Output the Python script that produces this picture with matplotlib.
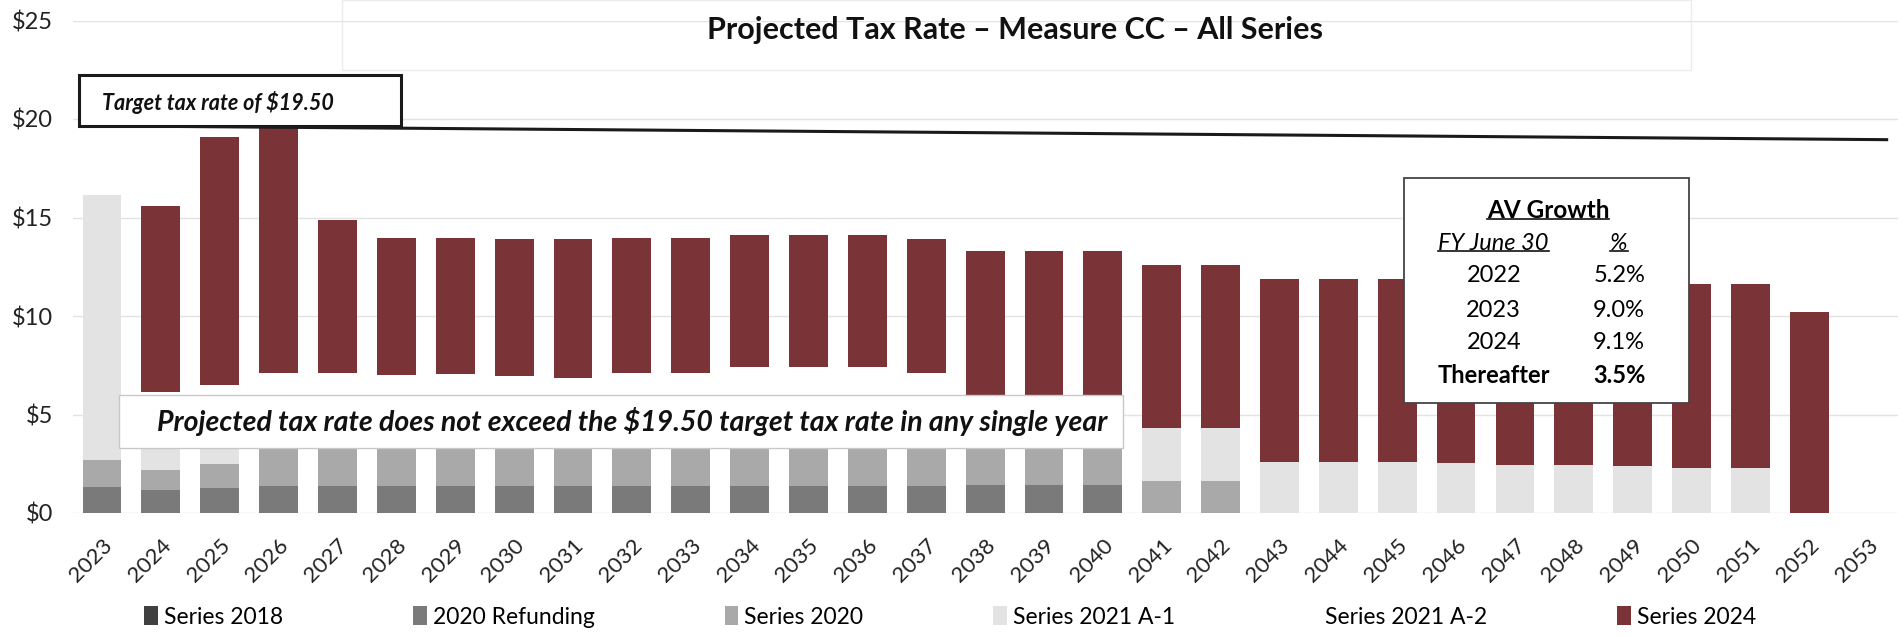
import numpy as np
import matplotlib.pyplot as plt
from matplotlib.patches import Rectangle
from matplotlib.lines import Line2D

plt.rcParams['font.family'] = ['Lato', 'DejaVu Sans']
plt.rcParams['text.parse_math'] = False

# data ($ per $100,000 AV)
years = [str(y) for y in range(2023, 2054)]
series_2018 = [0.0] * 31
refunding_2020 = [1.33, 1.17, 1.25, 1.35, 1.35, 1.35, 1.35, 1.35, 1.35, 1.35, 1.35, 1.35, 1.35, 1.35, 1.35,
                  1.40, 1.40, 1.40, 0, 0, 0, 0, 0, 0, 0, 0, 0, 0, 0, 0, 0]
series_2020 = [1.37, 1.03, 1.25, 2.15, 2.15, 2.15, 2.15, 2.15, 2.15, 2.15, 2.15, 2.15, 2.15, 2.15, 2.15,
               2.10, 2.10, 2.10, 1.60, 1.60, 0, 0, 0, 0, 0, 0, 0, 0, 0, 0, 0]
series_2021_a1 = [13.45, 1.30, 1.00, 0, 0, 0, 0, 0, 0, 0, 0, 0, 0, 0, 0, 0, 0, 0,
                  2.70, 2.70, 2.60, 2.60, 2.60, 2.55, 2.45, 2.45, 2.40, 2.27, 2.27, 0, 0]
series_2021_a2 = [0, 2.66, 3.00, 3.59, 3.59, 3.50, 3.56, 3.44, 3.37, 3.62, 3.62, 3.93, 3.93, 3.93, 3.62,
                  2.00, 2.00, 2.00, 0, 0, 0, 0, 0, 0, 0, 0, 0, 0, 0, 0, 0]
series_2024 = [0, 9.44, 12.60, 12.50, 7.80, 6.97, 6.90, 6.96, 7.03, 6.85, 6.85, 6.67, 6.67, 6.67, 6.78,
               7.80, 7.80, 7.80, 8.30, 8.30, 9.30, 9.30, 9.30, 9.25, 9.35, 9.30, 9.30, 9.33, 9.33, 10.20, 0]

av_years = ['2022', '2023', '2024', 'Thereafter']
av_growth = ['5.2%', '9.0%', '9.1%', '3.5%']

series = [
    ('Series 2018', series_2018, '#404040'),
    ('2020 Refunding', refunding_2020, '#7a7a7a'),
    ('Series 2020', series_2020, '#a9a9a9'),
    ('Series 2021 A-1', series_2021_a1, '#e3e3e3'),
    ('Series 2021 A-2', series_2021_a2, '#ffffff'),
    ('Series 2024', series_2024, '#7a3336'),
]

W, H = 1904, 637
fig = plt.figure(figsize=(W / 100, H / 100), dpi=100)
ax = fig.add_axes([72.6 / W, 1 - 513 / H, 1825 / W, 492.5 / H])

x = np.arange(len(years))
bottom = np.zeros(len(years))
handles = []
for name, vals, col in series:
    vals = np.array(vals, dtype=float)
    b = ax.bar(x, vals, width=0.66, bottom=bottom, color=col, label=name, zorder=2)
    handles.append(b)
    bottom += vals

ax.set_xlim(-0.5, len(years) - 0.5)
ax.set_ylim(0, 25)
ax.set_yticks([0, 5, 10, 15, 20, 25])
ax.set_yticklabels(['$0', '$5', '$10', '$15', '$20', '$25'], fontsize=17, color='#222222')
ax.set_xticks(x)
ax.set_xticklabels(years, rotation=45, ha='right', rotation_mode='anchor', fontsize=16, color='#222222')
ax.tick_params(length=0)
ax.tick_params(axis='y', pad=14)
ax.tick_params(axis='x', pad=16)
ax.grid(axis='y', color='#e3e3e3', lw=1, zorder=0)
for s in ax.spines.values():
    s.set_visible(False)

# target line + box
ax.plot([-0.39, 30.34], [19.66, 18.95], color='#1a1a1a', lw=2.2, zorder=6, solid_capstyle='butt')
ax.add_patch(Rectangle((-0.39, 19.62), 5.47, 2.6, facecolor='white', edgecolor='#1a1a1a', lw=2.2, zorder=6))
ax.text(0.0, 20.86, 'Target tax rate of $19.50', fontsize=15.5, fontweight='bold', fontstyle='italic',
        ha='left', va='center', zorder=7, color='#111111')

# note box
ax.add_patch(Rectangle((0.29, 3.30), 17.05, 2.69, facecolor='white', edgecolor='#c8c8c8', lw=1, zorder=6))
ax.text(9.0, 4.62, 'Projected tax rate does not exceed the $19.50 target tax rate in any single year',
        fontsize=20.5, fontweight='bold', fontstyle='italic', ha='center', va='center', zorder=7, color='#111111')

# AV growth box
ax.add_patch(Rectangle((22.12, 5.58), 4.84, 11.42, facecolor='white', edgecolor='#444444', lw=1.3, zorder=6))
col1, col2 = 23.64, 25.77
t_av = ax.text(24.56, 15.38, 'AV Growth', fontsize=17.5, fontweight='bold', ha='center', va='center', zorder=7)
t_fy = ax.text(col1, 13.7, 'FY June 30', fontsize=17, fontstyle='italic', ha='center', va='center', zorder=7)
t_pc = ax.text(col2, 13.7, '%', fontsize=17, fontstyle='italic', ha='center', va='center', zorder=7)
row_y = [12.08, 10.3, 8.68, 7.0]
for yr, g, yy in zip(av_years, av_growth, row_y):
    wt = 'bold' if yr == 'Thereafter' else 'normal'
    ax.text(col1, yy, yr, fontsize=17, fontweight=wt, ha='center', va='center', zorder=7)
    ax.text(col2, yy, g, fontsize=17, fontweight=wt, ha='center', va='center', zorder=7)

fig.canvas.draw()
inv = fig.transFigure.inverted()
for t in (t_av, t_fy, t_pc):
    bb = t.get_window_extent()
    (x0, y0), (x1, _) = inv.transform([(bb.x0, bb.y0 + 3), (bb.x1, bb.y0 + 3)])
    fig.add_artist(Line2D([x0, x1], [y0, y0], color='#111111', lw=1.2, zorder=8))

# title and its faint frame
fig.add_artist(Rectangle((342 / W, 1 - 70 / H), 1349 / W, 70 / H, fill=False, edgecolor='#ececec',
                         lw=1, transform=fig.transFigure))
fig.text(1015 / W, 1 - 30 / H, 'Projected Tax Rate \u2013 Measure CC \u2013 All Series', fontsize=22,
         fontweight='bold', ha='center', va='center', color='#111111')

fig.legend(handles=handles, loc='center', ncol=6, mode='expand', frameon=False,
           bbox_to_anchor=(135 / W, 1 - 630 / H, 1630 / W, 26 / H), fontsize=16.5,
           handlelength=0.6, handleheight=0.9, handletextpad=0.25, borderaxespad=0)

fig.savefig('out.png', dpi=100)
